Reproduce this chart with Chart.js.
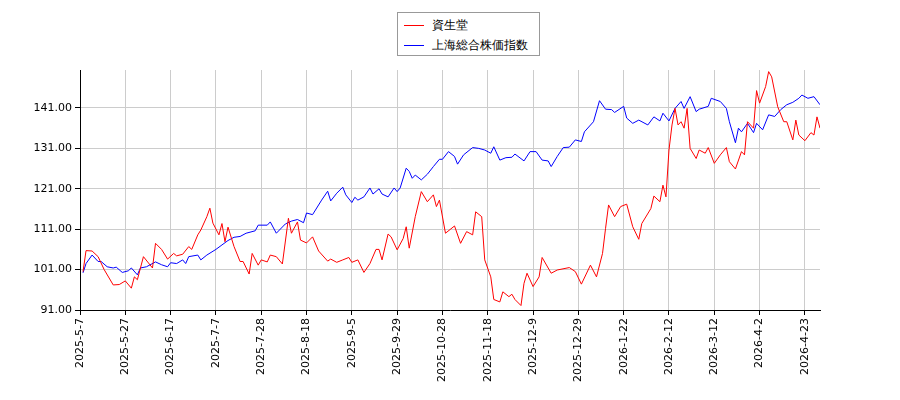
<!DOCTYPE html>
<html><head><meta charset="utf-8">
<script src="https://cdn.jsdelivr.net/npm/chart.js@4/dist/chart.umd.min.js"></script>
<style>body{margin:0;background:#fff;}#w{position:relative;width:900px;height:400px;}
#lg{position:absolute;left:397px;top:12px;width:141px;height:42px;border:1px solid #999;background:#fff;font:12px "DejaVu Sans";}
.r{position:absolute;left:6px;display:flex;align-items:center;}.r i{display:inline-block;width:20px;height:0;border-top:1.5px solid;margin-right:8px;}
</style></head><body><div id="w"><canvas id="c" width="900" height="400"></canvas>
<div id="lg"><div class="r" style="top:4px"><i style="border-color:#f00"></i>資生堂</div><div class="r" style="top:24px"><i style="border-color:#00f"></i>上海総合株価指数</div></div></div>
<script>
const tickLabels=["2025-5-7","2025-5-27","2025-6-17","2025-7-7","2025-7-28","2025-8-18","2025-9-5","2025-9-29","2025-10-28","2025-11-18","2025-12-9","2025-12-29","2026-1-22","2026-2-12","2026-3-12","2026-4-2","2026-4-23"];
const redX=[1,2,4,6,8,11,13,15,17,18,19,21,24,25,27,29,31,32,34,36,37,39,40,42,43,44,46,47,48,49,51,53,54,56,57,59,60,62,63,65,67,69,70,72,73,75,77,79,82,83,85,87,89,90,92,94,96,98,99,100,102,103,105,107,108,109,111,113,115,117,118,119,121,124,126,128,130,131,133,134,136,137,139,140,142,143,144,146,147,148,150,152,153,156,158,162,164,166,169,171,173,174,175,177,179,181,183,185,186,189,190,192,193,194,195,196,197,198,199,200,201,202,204,205,207,208,210,212,214,215,217,219,220,221,223,224,225,227,228,229,231,233,234,236,237,238,240,242,243,244,245];
const redY=[100.5,105.7,105.6,104.2,101,97.2,97.3,98.2,96.4,99.2,98.5,104.2,101.4,107.5,106,103.6,105,104.4,104.8,106.7,106,109.6,110.8,114.1,116.2,112.5,109.6,112.4,107.9,111.5,106.7,103,103,99.9,105,102.1,103.4,102.9,104.6,104.2,102.4,113.7,110,112.8,108.3,107.6,109.1,105.6,103.1,103.6,102.8,103.4,104,102.8,103.4,100.3,102.5,106,106,103.4,109.8,109.1,105.9,108.7,111.6,106.3,114.1,120.3,117.8,119.5,116.6,118.2,110,111.8,107.5,110.4,109.6,115.3,114.1,103.4,99.2,93.6,93,95.5,94.3,94.9,93.6,92.1,97.6,100.1,96.8,99.2,104,100.1,100.9,101.5,100.5,97.4,102.1,99.2,105,111.2,117,114.1,116.6,117.2,111.6,108.5,112.4,116.1,119.2,117.8,121.9,119,130.6,136.8,140.9,136.8,137.6,136,140.9,131,128.5,130.6,129.8,131.2,127.3,129.4,131.2,127.7,125.9,130.2,129.4,137.6,136,145.3,142.2,146.3,150,148.7,141.3,137.6,137.6,133.1,138,134.3,132.9,134.9,134.3,138.8,136];
const blueX=[1,2,4,6,7,9,11,12,14,16,17,19,20,22,25,27,29,30,32,34,35,36,39,40,42,45,47,49,51,53,55,58,59,62,63,65,68,70,72,74,75,77,80,82,83,85,87,88,90,91,92,94,96,97,99,100,102,104,105,106,108,109,110,111,113,115,117,119,120,122,124,125,127,130,132,134,136,137,139,141,143,144,147,149,151,153,155,156,158,160,162,164,166,167,170,172,174,176,177,180,181,183,185,188,190,192,193,195,197,199,200,202,204,205,208,209,212,214,215,217,218,219,221,223,224,226,228,230,232,234,236,238,239,241,243,245];
const blueY=[100.2,102.5,104.6,103,103,101.7,101.4,101.6,100.3,100.7,101.4,99.7,101.4,101.7,102.9,102.2,101.7,102.7,102.5,103.4,102.5,104.2,104.6,103.4,104.6,106,107.1,108.2,109,109.2,110,110.6,112,112,112.8,110,112.3,113,113.4,112.6,115,114.6,118.2,120.4,118,119.9,121.4,119.5,117.6,118.9,118.2,119,121.2,119.7,121,119.7,119,121.2,120.3,121.2,126.1,125.3,123.6,124.4,123.2,124.6,126.5,128.3,128.3,130.2,129,127.1,129.4,131.2,131,130.6,129.8,131.4,128.1,128.7,128.8,129.6,127.9,130.2,130.2,128.1,127.9,126.5,129,131.2,131.3,133.1,132.7,135.1,137.6,142.8,140.7,140.6,139.9,141.4,138.5,137.2,138,136.8,138.8,137.8,139.7,137.8,140.9,142.6,140.9,143.8,140.1,140.7,141.4,143.4,142.6,140.9,137.6,132.4,136,135.1,137.2,134.9,137.2,135.6,139.3,138.9,140.6,141.8,142.4,143.4,144.2,143.4,143.8,141.8];
const pts=(xs,ys)=>xs.map((x,i)=>({x,y:ys[i]}));
const font={family:"DejaVu Sans",size:11};
new Chart(document.getElementById('c'),{type:'line',
data:{datasets:[
{data:pts(redX,redY),borderColor:'#f00',borderWidth:1,pointRadius:0,tension:0},
{data:pts(blueX,blueY),borderColor:'#00f',borderWidth:1,pointRadius:0,tension:0}]},
options:{responsive:false,animation:false,layout:{padding:{top:70,right:80,left:0,bottom:0}},
plugins:{legend:{display:false},tooltip:{enabled:false}},
scales:{
x:{type:'linear',min:0,max:245,
afterFit:s=>{s.height=90;},
afterBuildTicks:s=>{s.ticks=tickLabels.map((_,i)=>({value:i*15}));},
ticks:{autoSkip:false,maxRotation:90,minRotation:90,color:'#000',font,callback:v=>tickLabels[v/15]},
grid:{color:'#ccc',drawTicks:true,tickLength:5,tickColor:'#000'},border:{color:'#000'}},
y:{min:91,max:150.4,
afterFit:s=>{s.width=80;},
afterBuildTicks:s=>{s.ticks=[91,101,111,121,131,141].map(v=>({value:v}));},
ticks:{color:'#000',font,callback:v=>v.toFixed(2)},
grid:{color:'#ccc',tickLength:5,tickColor:'#000'},border:{color:'#000'}}}}});
</script></body></html>
